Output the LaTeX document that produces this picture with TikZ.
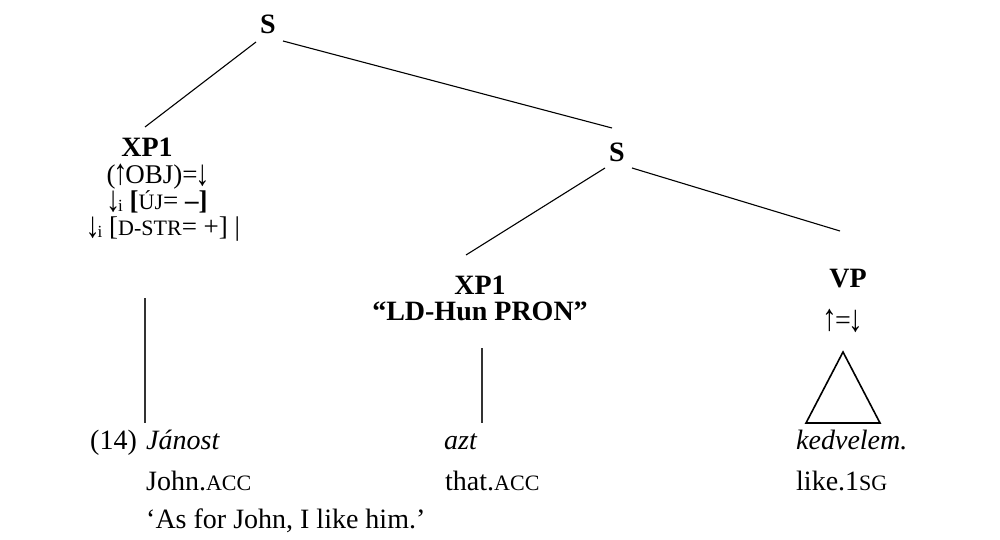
\documentclass[tikz,border=0pt]{standalone}
\usepackage{fontspec}
\setmainfont{Liberation Serif}
\newcommand{\fsc}[1]{{\fontsize{22}{22}\selectfont #1}}
\newcommand{\subi}{\raisebox{-2pt}{\fontsize{17}{17}\selectfont i}}
\newcommand{\uarr}{\kern-0.08em\raisebox{-0.04em}{\scalebox{1.05}[1.35]{↑}}\kern-0.08em}
\newcommand{\darr}{\kern-0.08em\raisebox{-0.08em}{\scalebox{1.05}[1.35]{↓}}\kern-0.08em}
\begin{document}
\begin{tikzpicture}[x=1pt,y=-1pt,
  lbl/.style={inner sep=0pt, anchor=base, font=\fontsize{28}{30}\selectfont},
  lbls/.style={lbl, font=\fontsize{27}{28}\selectfont},
  lblb/.style={lbl, font=\fontsize{28}{30}\selectfont\bfseries},
  lblw/.style={lbl, anchor=base west},
  lbli/.style={lblw, font=\fontsize{28}{30}\selectfont\itshape},
  branch/.style={line width=1.1pt},
  stem/.style={line width=1.1pt, draw=black!80},
  tri/.style={line width=1.6pt, line join=miter}]
\useasboundingbox (0,0) rectangle (1000,540);
% tree labels
\node[lblb] (S1) at (268,34) {S};
\node[lblb] (XL) at (147,157) {XP1};
\node[lbls] (XLa) at (157,183) {(\uarr OBJ)=\darr};
\node[lbls] (XLb) at (158,209) {\darr\subi\ \textbf{[}\fsc{ÚJ}= \textbf{–]}};
\node[lbls] (XLc) at (164,235) {\darr\subi\ [\fsc{D-STR}= +] |};
\node[lblb] (S2) at (617,161) {S};
\node[lblb] (XM) at (480,294) {XP1};
\node[lblb] (XMa) at (480,320) {“LD-Hun PRON”};
\node[lblb] (VP) at (848,287) {VP};
\node[lbl] (VPa) at (843,329) {\uarr=\darr};
% branch end points
\coordinate (s1l) at (256,42);
\coordinate (s1r) at (283,41);
\coordinate (xlt) at (145,127);
\coordinate (s2t) at (612,128);
\coordinate (s2l) at (605,168);
\coordinate (s2r) at (632,168);
\coordinate (xmt) at (466,255);
\coordinate (vpt) at (840,231);
\coordinate (xlb) at (145,298);
\coordinate (xmb) at (482,348);
\coordinate (ta) at (843,352);
\coordinate (tl) at (806,423);
\coordinate (tr) at (880,423);
% example lines
\node[lblw] (num) at (90,449) {(14)};
\node[lbli] (w1) at (146,449) {Jánost};
\node[lbli] (w2) at (444,449) {azt};
\node[lbli] (w3) at (796,449) {kedvelem.};
\node[lblw] (g1) at (146,490) {John.\fsc{ACC}};
\node[lblw] (g2) at (445,490) {that.\fsc{ACC}};
\node[lblw] (g3) at (796,490) {like.1\fsc{SG}};
\node[lblw] (tr1) at (146,528) {‘As for John, I like him.’};
\coordinate (w1t) at (145,423);
\coordinate (w2t) at (482,423);
% connectors
\draw[branch] (s1l) -- (xlt);
\draw[branch] (s1r) -- (s2t);
\draw[branch] (s2l) -- (xmt);
\draw[branch] (s2r) -- (vpt);
\draw[stem] (xlb) -- (w1t);
\draw[stem] (xmb) -- (w2t);
\draw[tri] (ta) -- (tl) -- (tr) -- cycle;
\end{tikzpicture}
\end{document}
